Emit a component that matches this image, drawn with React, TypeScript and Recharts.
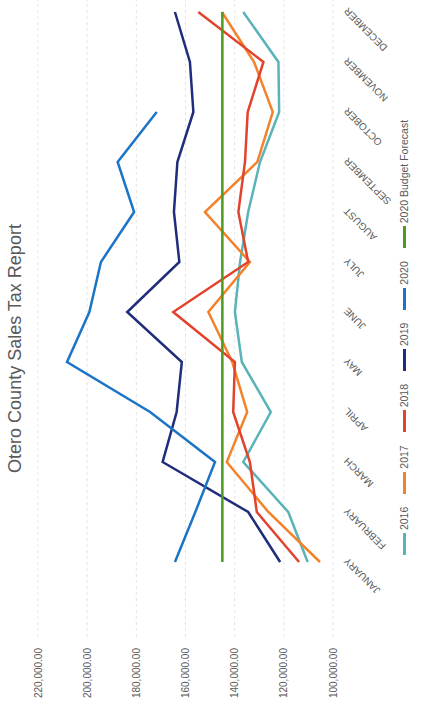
import { LineChart, Line, CartesianGrid, XAxis, YAxis } from "recharts";

const months = [
  "JANUARY", "FEBRUARY", "MARCH", "APRIL", "MAY", "JUNE",
  "JULY", "AUGUST", "SEPTEMBER", "OCTOBER", "NOVEMBER", "DECEMBER",
];

const sales2016 = [110300, 118200, 136500, 125300, 137100, 139900, 137800, 134500, 129700, 121900, 122200, 136500];
const sales2017 = [105300, 126300, 143200, 134900, 141000, 150700, 133800, 152100, 130800, 124500, 132100, 145200];
const sales2018 = [113800, 131000, 133800, 140600, 139900, 165000, 134500, 138500, 135800, 134700, 128300, 154800];
const sales2019 = [121500, 134500, 169300, 163600, 161500, 183700, 162500, 164700, 163300, 156800, 158200, 164300];
const sales2020 = [164300, 156000, 148000, 174400, 208200, 199100, 194400, 180900, 187600, 171700, null, null];
const budget2020 = [145000, 145000, 145000, 145000, 145000, 145000, 145000, 145000, 145000, 145000, 145000, 145000];

const yTicks = [100000, 120000, 140000, 160000, 180000, 200000, 220000];

const series = [
  { key: "2016", name: "2016", color: "#5AB3B8" },
  { key: "2017", name: "2017", color: "#F3822B" },
  { key: "2018", name: "2018", color: "#E2432C" },
  { key: "2019", name: "2019", color: "#1F2D7B" },
  { key: "2020", name: "2020", color: "#1B74C5" },
  { key: "budget", name: "2020 Budget Forecast", color: "#4C9A1F" },
];

const data = months.map((m, i) => ({
  month: m,
  "2016": sales2016[i],
  "2017": sales2017[i],
  "2018": sales2018[i],
  "2019": sales2019[i],
  "2020": sales2020[i],
  budget: budget2020[i],
}));

const font = "'Liberation Sans', Arial, sans-serif";
const grey = "#595959";

const fmt = (v: number) =>
  v.toLocaleString("en-US", { minimumFractionDigits: 2, maximumFractionDigits: 2 });

export default function App() {
  return (
    <div
      style={{
        position: "absolute",
        top: 0,
        left: 0,
        width: 433,
        height: 705,
        overflow: "hidden",
        background: "#fff",
      }}
    >
      <div
        style={{
          position: "absolute",
          top: 0,
          left: 0,
          width: 705,
          height: 433,
          transformOrigin: "0 0",
          transform: "translateY(705px) rotate(-90deg)",
          fontFamily: font,
        }}
      >
        <div
          style={{
            position: "absolute",
            top: 5,
            left: 0,
            width: 705,
            paddingLeft: 8,
            boxSizing: "border-box",
            textAlign: "center",
            fontSize: 18,
            lineHeight: "20px",
            color: grey,
          }}
        >
          Otero County Sales Tax Report
        </div>
        <LineChart
          width={705}
          height={433}
          data={data}
          margin={{ top: 38, right: 0, bottom: 40, left: 0 }}
        >
          <CartesianGrid vertical={false} stroke="#e4e4e4" strokeDasharray="3 3" />
          <XAxis
            dataKey="month"
            axisLine={false}
            tickLine={false}
            tickSize={0}
            tickMargin={10}
            interval={0}
            height={60}
            padding={{ left: 75, right: 12 }}
            angle={-45}
            textAnchor="end"
            tick={{ fontSize: 10, fill: grey, fontFamily: font }}
          />
          <YAxis
            domain={[100000, 220000]}
            ticks={yTicks}
            width={68}
            axisLine={false}
            tickLine={false}
            tickSize={0}
            tickMargin={11}
            tickFormatter={fmt}
            tick={{ fontSize: 10, fill: grey, fontFamily: font }}
          />
          {series.map((s) => (
            <Line
              key={s.key}
              type="linear"
              dataKey={s.key}
              name={s.name}
              stroke={s.color}
              strokeWidth={2.5}
              dot={false}
              activeDot={false}
              isAnimationActive={false}
            />
          ))}
        </LineChart>
        <div
          style={{
            position: "absolute",
            top: 397,
            left: 0,
            width: 705,
            paddingLeft: 30,
            boxSizing: "border-box",
            display: "flex",
            justifyContent: "center",
            gap: 13,
            fontSize: 10.5,
            lineHeight: "14px",
            color: grey,
          }}
        >
          {series.map((s) => (
            <div key={s.key} style={{ display: "flex", alignItems: "center", gap: 3 }}>
              <div style={{ width: 22, height: 3, background: s.color }} />
              <span>{s.name}</span>
            </div>
          ))}
        </div>
      </div>
    </div>
  );
}
